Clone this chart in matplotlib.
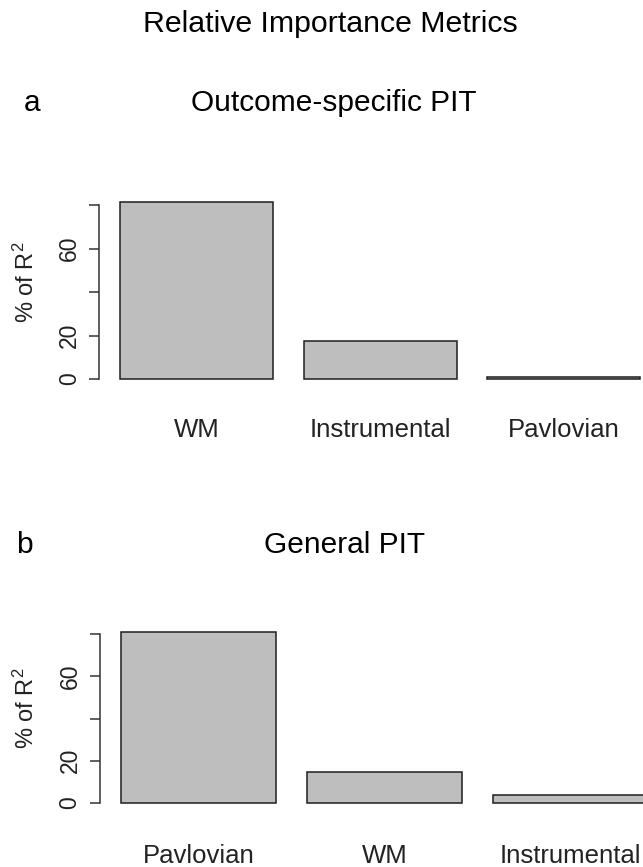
import numpy as np
import matplotlib
matplotlib.use('Agg')
import matplotlib.pyplot as plt

plt.rcParams['font.family'] = ['Liberation Sans', 'DejaVu Sans']
plt.rcParams['mathtext.fontset'] = 'custom'
plt.rcParams['mathtext.rm'] = 'Liberation Sans'

# data
labels_a = ['WM', 'Instrumental', 'Pavlovian']
values_a = [81.2, 17.6, 0.9]
labels_b = ['Pavlovian', 'WM', 'Instrumental']
values_b = [81.1, 14.5, 3.5]
yticks = [0, 20, 40, 60, 80]
ytick_labels = ['0', '20', '', '60', '']

W, H = 643, 867
fig = plt.figure(figsize=(W / 100, H / 100), dpi=100)


def px(x, y):
    # pixel from top-left -> figure fraction
    return x / W, 1 - y / H


def panel(values, labels, x0, xs, y0, ys, label_base):
    n = len(values)
    # R barplot layout: width 1, space 0.2
    xc = 0.2 + np.arange(n) * 1.2 + 0.5
    xlim = (0.2 - 0.04 * (1.2 * n - 0.2), 0.2 + 1.2 * n - 0.2 + 0.04 * (1.2 * n - 0.2))
    ymax = max(values)
    ylim = (-0.04 * ymax, 1.04 * ymax)
    width = (xlim[1] - xlim[0]) * xs
    top = y0 - ylim[1] * ys
    bottom = y0 - ylim[0] * ys
    ax = fig.add_axes([x0 / W, 1 - bottom / H, width / W, (bottom - top) / H])
    ax.set_xlim(xlim)
    ax.set_ylim(ylim)
    ax.patch.set_alpha(0)
    ax.bar(xc, values, width=1, color='#bebebe', edgecolor='#1e1e1e', linewidth=1.1)
    for s in ['top', 'right', 'bottom']:
        ax.spines[s].set_visible(False)
    ax.spines['left'].set_bounds(0, 80)
    ax.spines['left'].set_color('#333333')
    ax.spines['left'].set_linewidth(1.1)
    ax.set_xticks([])
    ax.set_yticks(yticks)
    ax.set_yticklabels(ytick_labels, rotation=90, va='center', fontsize=16.5, color='#222222')
    ax.tick_params(axis='y', length=7.2, width=1.1, color='#333333', pad=6)
    for x, lab in zip(xc, labels):
        ax.annotate(lab, xy=(x, 1 - label_base / H), xycoords=('data', 'figure fraction'),
                    ha='center', va='baseline', fontsize=18.5, color='#222222',
                    annotation_clip=False)
    return ax


ax_a = panel(values_a, labels_a, 99.2, 153, 379, 2.175, 437)
ax_b = panel(values_b, labels_b, 99.9, 155, 802.7, 2.105, 863)

fig.text(*px(330, 32), 'Relative Importance Metrics', ha='center', va='baseline', fontsize=21.8)
fig.text(*px(32, 111), 'a', ha='center', va='baseline', fontsize=21.5)
fig.text(*px(334, 111), 'Outcome-specific PIT', ha='center', va='baseline', fontsize=21.5)
fig.text(*px(24, 553), 'b', ha='center', va='baseline', fontsize=21.5)
fig.text(*px(345, 553), 'General PIT', ha='center', va='baseline', fontsize=21.5)
fig.text(*px(26, 282), '% of $\\mathregular{R^2}$', rotation=90, ha='center', va='center',
         fontsize=17, color='#222222')
fig.text(*px(26, 708), '% of $\\mathregular{R^2}$', rotation=90, ha='center', va='center',
         fontsize=17, color='#222222')

fig.savefig('out.png', dpi=100)
